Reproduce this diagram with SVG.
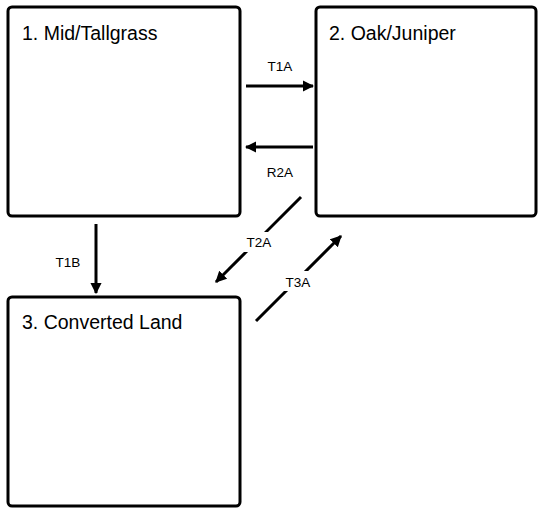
<svg xmlns="http://www.w3.org/2000/svg" width="544" height="509" viewBox="0 0 544 509">
<defs>
<marker id="ah" viewBox="0 0 10 10" refX="9" refY="5" markerWidth="3.8" markerHeight="3.8" orient="auto" markerUnits="strokeWidth">
<path d="M0,0 L10,5 L0,10 z" fill="#000"/>
</marker>
<style>
.box{fill:#fff;stroke:#000;stroke-width:3}
.title{font-family:"Liberation Sans",Arial,sans-serif;font-size:19.5px;fill:#000}
.lbl{font-family:"Liberation Sans",Arial,sans-serif;font-size:13.5px;fill:#000;text-anchor:middle}
.con{stroke:#000;stroke-width:3;fill:none;marker-end:url(#ah)}
.bg{fill:#fff}
</style>
</defs>
<rect width="544" height="509" fill="#fff"/>
<g id="node1"><rect class="box" x="8" y="7" width="232" height="209" rx="4"/><text class="title" x="22" y="40">1. Mid/Tallgrass</text></g>
<g id="node2"><rect class="box" x="316" y="7" width="220" height="209" rx="4"/><text class="title" x="329" y="40">2. Oak/Juniper</text></g>
<g id="node3"><rect class="box" x="8" y="297" width="232" height="209" rx="4"/><text class="title" x="22" y="329">3. Converted Land</text></g>
<g id="connectors">
<line class="con" x1="246" y1="86" x2="313" y2="86"/>
<text class="lbl" x="280" y="71">T1A</text>
<line class="con" x1="313" y1="147" x2="246" y2="147"/>
<text class="lbl" x="280" y="177">R2A</text>
<line class="con" x1="96" y1="224" x2="96" y2="293"/>
<text class="lbl" x="68" y="267">T1B</text>
<line class="con" x1="301" y1="197" x2="216" y2="282"/>
<rect class="bg" x="243" y="232" width="32" height="20"/>
<text class="lbl" x="259" y="247">T2A</text>
<line class="con" x1="256" y1="321" x2="341" y2="236"/>
<rect class="bg" x="282" y="271" width="32" height="20"/>
<text class="lbl" x="298" y="287">T3A</text>
</g>
</svg>
